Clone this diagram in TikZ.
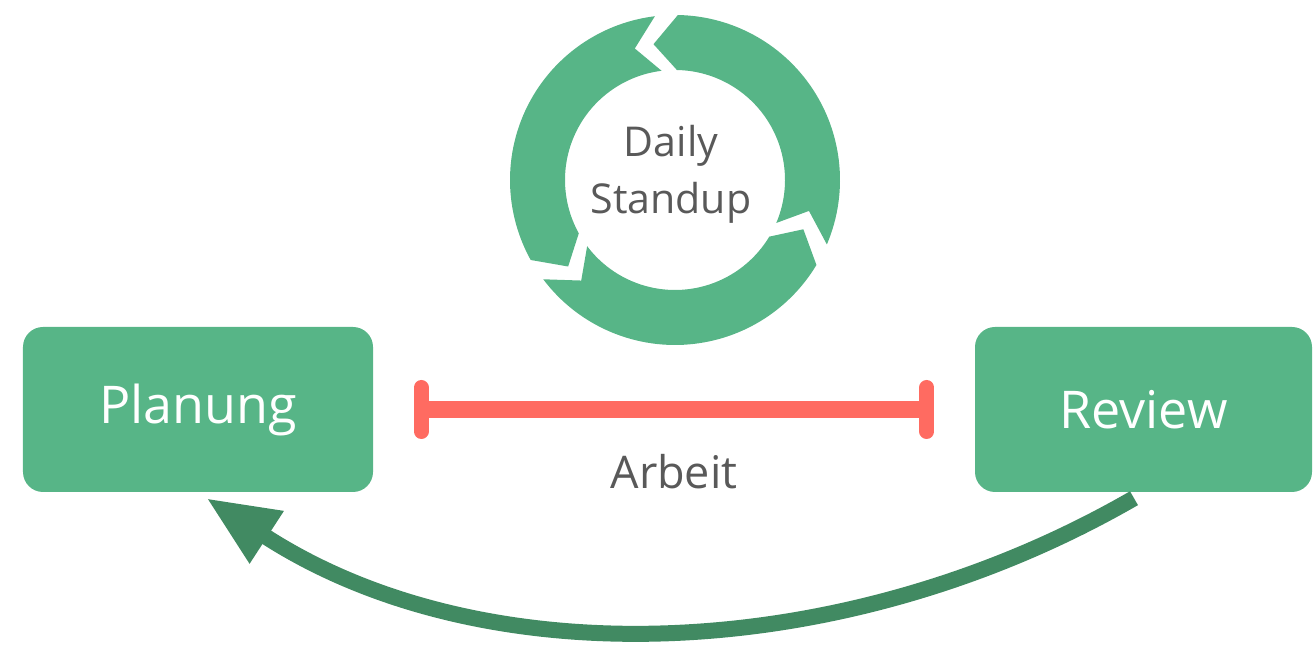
\documentclass[tikz,border=0pt]{standalone}
\usepackage{fontspec}
\setmainfont{Open Sans}
\usepackage{xcolor}
\usepackage{tikz}
\usetikzlibrary{arrows.meta,positioning,calc}
\definecolor{scrumGreen}{HTML}{57B587}
\definecolor{scrumDark}{HTML}{418A62}
\definecolor{scrumRed}{HTML}{FF6B61}
\definecolor{scrumGray}{HTML}{595959}

\begin{document}
\begin{tikzpicture}[>=Stealth,
  box/.style={fill=scrumGreen,rounded corners=2mm,minimum height=16.5mm,text=white,font=\fontsize{14.8}{17}\selectfont},
  workbar/.style={draw=scrumRed,line width=1.7mm,shorten <=4mm,shorten >=4mm,
    arrows={Bar[width=4.4mm,line width=1.5mm,round]-Bar[width=4.4mm,line width=1.5mm,round]}},
  backarrow/.style={draw=scrumDark,line width=1.6mm,shorten <=1.1mm,shorten >=1mm,-{Triangle[length=7.2mm,width=5.8mm]}}]
\useasboundingbox (0,0) rectangle (13.13,6.5);
\node[box,minimum width=35mm] (plan) at (1.98,2.405) {Planung};
\node[box,minimum width=33.7mm] (rev) at (11.435,2.405) {Review};
\node[scrumGray,align=center,font=\fontsize{11.7}{16.2}\selectfont] (standup) at (6.71,4.76) {Daily\\Standup};
\begin{scope}[shift={(6.75,4.70)}]
\foreach \g in {93,213,333}
  \fill[scrumGreen] ({\g+4}:1.65) arc[start angle=\g+4,end angle=\g+116,radius=1.65]
    -- ({\g+126}:1.375) -- ({\g+116}:1.10) arc[start angle=\g+116,end angle=\g+4,radius=1.10]
    -- ({\g+14}:1.375) -- cycle;
\end{scope}
\draw[workbar] (plan) -- node[below=2.5mm,scrumGray,font=\fontsize{12.8}{15}\selectfont] (work) {Arbeit} (rev);
\draw[backarrow] (rev.south) to[out=-150,in=-33,looseness=0.93] (plan.south);
\end{tikzpicture}
\end{document}
